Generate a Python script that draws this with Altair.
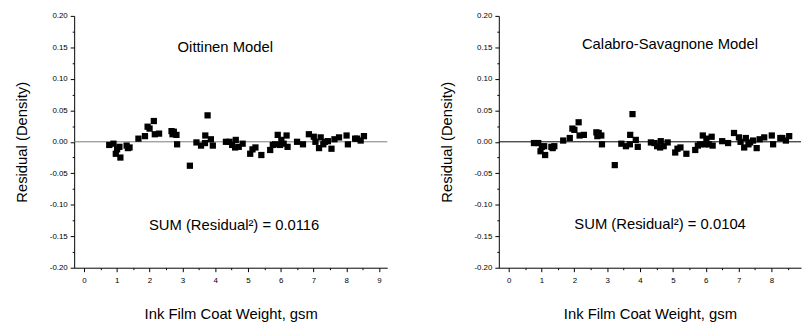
import altair as alt
import pandas as pd

# Ink film coat weight (gsm) shared by both panels
weight = [0.77, 0.90, 0.97, 1.01, 1.08, 1.11, 1.30, 1.34, 1.39, 1.66,
          1.86, 1.94, 2.00, 2.13, 2.16, 2.29, 2.67, 2.70, 2.74, 2.82,
          2.84, 3.23, 3.43, 3.57, 3.70, 3.69, 3.77, 3.87, 3.93, 4.33,
          4.44, 4.52, 4.63, 4.61, 4.72, 4.84, 5.07, 5.14, 5.23, 5.41,
          5.68, 5.76, 5.83, 5.91, 5.98, 6.02, 6.09, 6.18, 6.21, 6.50,
          6.68, 6.86, 7.01, 7.06, 7.17, 7.22, 7.30, 7.35, 7.44, 7.55,
          7.64, 7.78, 8.01, 8.05, 8.27, 8.33, 8.44, 8.54]

resid_oittinen = [-0.005, -0.003, -0.019, -0.012, -0.008, -0.025, -0.006, -0.010, -0.009, 0.005,
                  0.009, 0.024, 0.021, 0.033, 0.012, 0.013, 0.017, 0.012, 0.016, 0.011,
                  -0.004, -0.038, -0.001, -0.006, 0.010, -0.002, 0.042, 0.004, -0.006, 0.000,
                  0.000, -0.005, 0.003, -0.009, -0.008, -0.003, -0.019, -0.012, -0.009, -0.021,
                  -0.013, -0.005, -0.004, 0.011, -0.005, 0.003, -0.003, 0.010, -0.008, 0.000,
                  -0.004, 0.012, 0.008, 0.000, -0.010, 0.007, -0.004, 0.000, 0.001, -0.011,
                  0.004, 0.007, 0.010, -0.004, 0.005, 0.005, 0.002, 0.009]

resid_calabro = [-0.002, -0.002, -0.015, -0.008, -0.007, -0.021, -0.008, -0.010, -0.007, 0.002,
                 0.006, 0.021, 0.019, 0.031, 0.010, 0.011, 0.015, 0.009, 0.014, 0.010,
                 -0.004, -0.037, -0.003, -0.007, 0.011, -0.004, 0.044, 0.003, -0.008, -0.001,
                 -0.002, -0.007, 0.001, -0.009, -0.007, -0.001, -0.017, -0.011, -0.009, -0.019,
                 -0.013, -0.006, -0.004, 0.010, -0.004, 0.005, -0.004, 0.008, -0.006, 0.001,
                 -0.002, 0.014, 0.007, 0.000, -0.009, 0.006, -0.004, -0.001, 0.002, -0.010,
                 0.004, 0.007, 0.010, -0.004, 0.006, 0.006, 0.002, 0.009]

model_names = ["Oittinen Model", "Calabro-Savagnone Model"]
sum_labels = ["SUM (Residual\u00b2) = 0.0116", "SUM (Residual\u00b2) = 0.0104"]
name_pos = [(4.31, 0.150), (4.91, 0.155)]
sum_pos = [(4.58, -0.133), (4.61, -0.131)]
x_max = [9.25, 8.9]
panel_widths = [317, 306]
zero_colors = ["#7a7a7a", "#000000"]

FONT = "Liberation Sans"
MAJOR_X = "abs(datum.value - round(datum.value)) < 0.001"
MAJOR_Y = "abs(datum.value*20 - round(datum.value*20)) < 0.001"

common_axis = dict(grid=False, domainColor="black", domainWidth=1, tickColor="black",
                   tickWidth=1, labelColor="black", labelFont=FONT, labelFontSize=8,
                   labelOverlap=False, labelFlush=False, titleFont=FONT, titleFontSize=15,
                   titleFontWeight="normal", titleColor="black")


def make_panel(i, resid):
    xmax = x_max[i]
    xticks = [k * 0.5 for k in range(0, int(xmax * 2) + 1)]
    yticks = [round(-0.2 + k * 0.025, 3) for k in range(17)]
    xscale = alt.Scale(domain=[-0.3, xmax], nice=False, zero=False)
    yscale = alt.Scale(domain=[-0.2, 0.2], nice=False, zero=False)
    xaxis = alt.Axis(title="Ink Film Coat Weight, gsm", values=xticks,
                     labelExpr=f"({MAJOR_X}) ? format(datum.value, 'd') : ''",
                     tickSize={"condition": {"test": MAJOR_X, "value": 4}, "value": 2},
                     labelPadding=5, titlePadding=22, **common_axis)
    yaxis = alt.Axis(title="Residual (Density)", values=yticks,
                     labelExpr=f"({MAJOR_Y}) ? replace(format(datum.value, '.2f'), '\u2212', '-') : ''",
                     tickSize={"condition": {"test": MAJOR_Y, "value": 4}, "value": 2},
                     labelPadding=3, titlePadding=20, **common_axis)

    df = pd.DataFrame({"weight": weight, "resid": resid})
    zero = pd.DataFrame({"resid": [0.0]})
    ann = pd.DataFrame({
        "weight": [name_pos[i][0], sum_pos[i][0]],
        "resid": [name_pos[i][1], sum_pos[i][1]],
        "label": [model_names[i], sum_labels[i]],
    })

    rule = alt.Chart(zero).mark_rule(color=zero_colors[i], strokeWidth=1).encode(
        y=alt.Y("resid:Q", scale=yscale, axis=yaxis))
    pts = alt.Chart(df).mark_square(size=40, color="black", filled=True, opacity=1).encode(
        x=alt.X("weight:Q", scale=xscale, axis=xaxis),
        y=alt.Y("resid:Q", scale=yscale, axis=yaxis))
    txt = alt.Chart(ann).mark_text(font=FONT, fontSize=15, color="black",
                                   align="center", baseline="middle").encode(
        x=alt.X("weight:Q", scale=xscale, axis=xaxis),
        y=alt.Y("resid:Q", scale=yscale, axis=yaxis),
        text="label:N")
    return alt.layer(rule, pts, txt).properties(width=panel_widths[i], height=255)


left = make_panel(0, resid_oittinen)
right = make_panel(1, resid_calabro)

chart = alt.hconcat(left, right, spacing=51).properties(
    padding={"left": 6, "top": 2, "right": 0, "bottom": 0},
    background="white",
).configure_view(stroke=None)

chart.save("out.html", embed_options={"renderer": "svg", "actions": False})
